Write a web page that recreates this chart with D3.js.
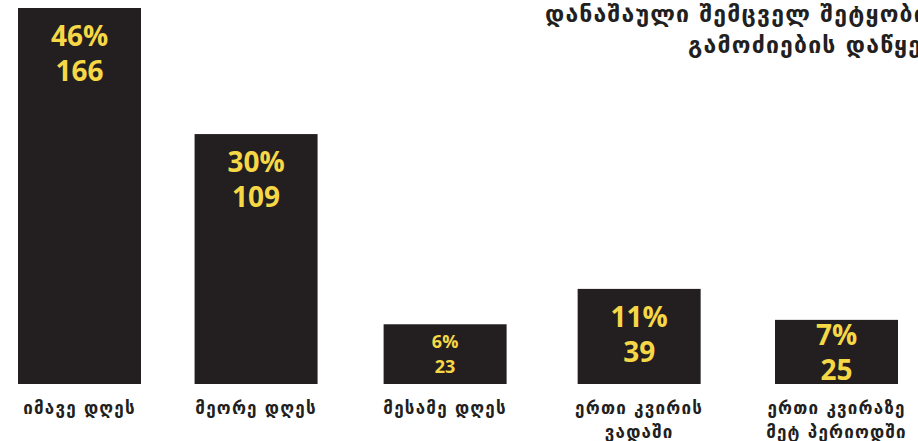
<!DOCTYPE html>
<html lang="ka">
<head>
<meta charset="utf-8">
<script src="https://cdn.jsdelivr.net/npm/d3@7"></script>
<style>
  html, body { margin: 0; padding: 0; background: #ffffff; overflow: hidden; }
  svg { display: block; }
</style>
</head>
<body>
<svg id="chart" width="918" height="441"></svg>
<script>
// Timing categories (two-line labels where needed)
const categories = [
  ["იმავე დღეს"],
  ["მეორე დღეს"],
  ["მესამე დღეს"],
  ["ერთი კვირის", "ვადაში"],
  ["ერთი კვირაზე", "მეტ პერიოდში"]
];
// Number of cases per category
const counts = [166, 109, 23, 39, 25];
// Share of all cases, percent
const shares = [46, 30, 6, 11, 7];
// Heading
const titleLines = ["დანაშაული შემცველ შეტყობინებებზე", "გამოძიების დაწყების ვადა"];

const W = 918, H = 441;
const barColor = "#231f20";
const labelColor = "#f6d846";
const geoFont = "'DejaVu Sans', sans-serif";
const numFont = "'Open Sans', 'Noto Sans', sans-serif";

const svg = d3.select("#chart");

// Bar slots widen slightly toward the right
const barW = 123;
const x = d3.scalePow().exponent(1.05)
  .domain([0, categories.length - 1])
  .range([18, 775]);

const baseY = 384;
const y = d3.scaleLinear().domain([-4, d3.max(counts)]).range([baseY, 8]);

const rows = counts.map((v, i) => ({ i, v, pct: shares[i], cat: categories[i] }));

const g = svg.append("g");

g.selectAll("rect.bar")
  .data(rows)
  .join("rect")
  .attr("class", "bar")
  .attr("x", d => x(d.i))
  .attr("y", d => y(d.v))
  .attr("width", barW)
  .attr("height", d => baseY - y(d.v))
  .attr("fill", barColor);

// Value labels inside each bar: percentage above count
rows.forEach(d => {
  const top = y(d.v);
  const h = baseY - top;
  const big = h >= 62;
  const fs = big ? 28 : 18;
  const gap = big ? 35 : 25;
  const capH = fs * 0.72;
  const pad = Math.min(18, (h - capH - gap) / 2);
  const b1 = top + pad + capH;
  const cx = x(d.i) + barW / 2;
  const lines = [d.pct + "%", String(d.v)];
  lines.forEach((t, k) => {
    g.append("text")
      .attr("x", cx)
      .attr("y", b1 + k * gap)
      .attr("text-anchor", "middle")
      .attr("font-family", numFont)
      .attr("font-weight", 700)
      .attr("font-size", fs)
      .attr("fill", labelColor)
      .text(t);
  });
});

// Category labels under the bars
rows.forEach(d => {
  const cx = x(d.i) + barW / 2;
  d.cat.forEach((t, k) => {
    g.append("text")
      .attr("x", cx)
      .attr("y", 414 + k * 24)
      .attr("text-anchor", "middle")
      .attr("font-family", geoFont)
      .attr("font-weight", 700)
      .attr("font-size", 17)
      .attr("letter-spacing", 1.2)
      .attr("fill", barColor)
      .text(t);
  });
});

// Heading, upper right; runs past the right edge of the canvas
const titleX = [545, 688];
const titleY = [22, 53];
titleLines.forEach((t, k) => {
  svg.append("text")
    .attr("x", titleX[k])
    .attr("y", titleY[k])
    .attr("font-family", geoFont)
    .attr("font-weight", 700)
    .attr("font-size", 23)
    .attr("letter-spacing", 1.2)
    .attr("fill", barColor)
    .text(t);
});
</script>
</body>
</html>
